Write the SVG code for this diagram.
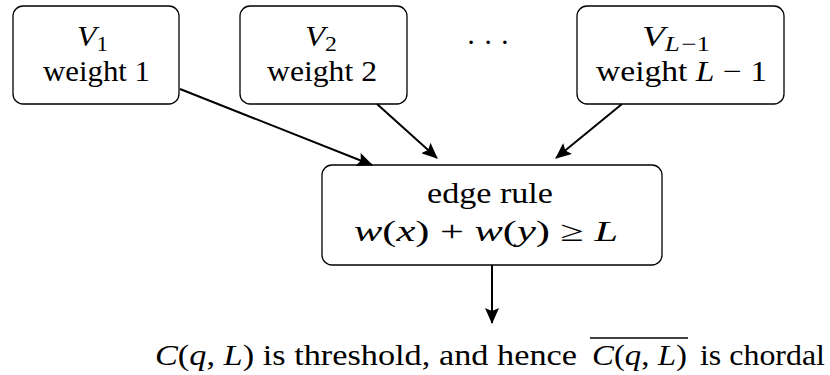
<svg xmlns="http://www.w3.org/2000/svg" width="830" height="375" viewBox="0 0 830 375">
<style>
.box{fill:#fff;stroke:#000;stroke-width:1.3}
.t{font-family:"Liberation Serif","Times New Roman",serif;font-size:29px;fill:#000}
.m{text-anchor:middle}
.i{font-style:italic}
.s{font-size:21px}
.e{stroke:#000;stroke-width:2;fill:none}
</style>
<defs>
<marker id="ah" markerUnits="userSpaceOnUse" markerWidth="16" markerHeight="14" viewBox="0 0 16 14" refX="15" refY="7" orient="auto">
<path d="M0,0 L16,7 L0,14 L3,7 Z" fill="#000"/>
</marker>
</defs>
<rect width="830" height="375" fill="#fff"/>
<g id="v1">
<rect class="box" x="13" y="6" width="166" height="98" rx="10"/>
<text class="t" x="77" y="46" textLength="31" lengthAdjust="spacingAndGlyphs"><tspan class="i">V</tspan><tspan class="s" dy="5">1</tspan></text>
<text class="t" x="43" y="81" textLength="107" lengthAdjust="spacingAndGlyphs">weight 1</text>
</g>
<g id="v2">
<rect class="box" x="240" y="6" width="167" height="98" rx="10"/>
<text class="t" x="305" y="46" textLength="32" lengthAdjust="spacingAndGlyphs"><tspan class="i">V</tspan><tspan class="s" dy="5">2</tspan></text>
<text class="t" x="267" y="81" textLength="110" lengthAdjust="spacingAndGlyphs">weight 2</text>
</g>
<g id="dots">
<text class="t m" x="488" y="52">· · ·</text>
</g>
<g id="vL">
<rect class="box" x="577" y="6" width="207" height="98" rx="10"/>
<text class="t" x="642" y="46" textLength="68" lengthAdjust="spacingAndGlyphs"><tspan class="i">V</tspan><tspan class="s i" dy="5">L</tspan><tspan class="s" dx="1">−1</tspan></text>
<text class="t" x="596" y="81" textLength="171" lengthAdjust="spacingAndGlyphs">weight <tspan class="i">L</tspan> − 1</text>
</g>
<g id="rule">
<rect class="box" x="322" y="165" width="340" height="100" rx="10"/>
<text class="t" x="427" y="203" textLength="126" lengthAdjust="spacingAndGlyphs">edge rule</text>
<text class="t" x="354" y="241" textLength="264" lengthAdjust="spacingAndGlyphs"><tspan class="i">w</tspan>(<tspan class="i">x</tspan>) + <tspan class="i">w</tspan>(<tspan class="i">y</tspan>) ≥ <tspan class="i">L</tspan></text>
</g>
<g id="result">
<text class="t" x="155" y="365" textLength="422" lengthAdjust="spacingAndGlyphs"><tspan class="i">C</tspan>(<tspan class="i">q</tspan>, <tspan class="i">L</tspan>) is threshold, and hence</text>
<text class="t" x="592" y="365" textLength="95" lengthAdjust="spacingAndGlyphs"><tspan class="i">C</tspan>(<tspan class="i">q</tspan>, <tspan class="i">L</tspan>)</text>
<line x1="590" y1="338" x2="688" y2="338" stroke="#000" stroke-width="1.3"/>
<text class="t" x="700" y="365" textLength="125" lengthAdjust="spacingAndGlyphs">is chordal</text>
</g>
<g id="connectors">
<line class="e" x1="180" y1="89" x2="372" y2="165" marker-end="url(#ah)"/>
<line class="e" x1="377" y1="104" x2="437" y2="158" marker-end="url(#ah)"/>
<line class="e" x1="622" y1="104" x2="556" y2="158" marker-end="url(#ah)"/>
<line class="e" x1="492" y1="265" x2="492" y2="323" marker-end="url(#ah)"/>
</g>
</svg>
